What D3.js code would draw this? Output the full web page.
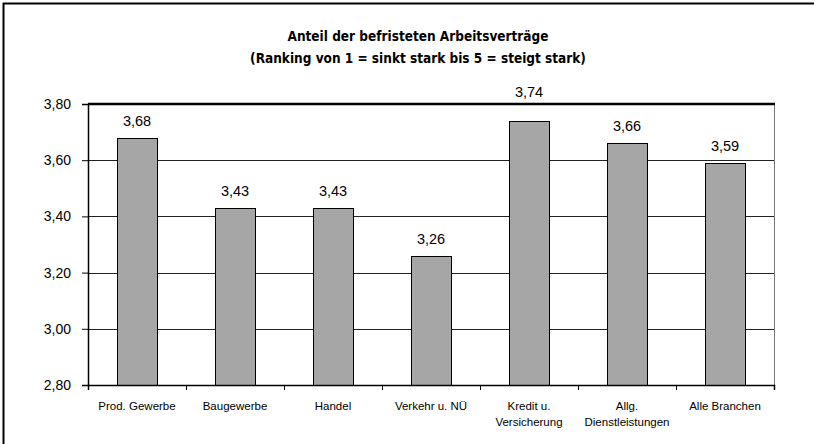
<!DOCTYPE html>
<html>
<head>
<meta charset="utf-8">
<script src="https://cdn.jsdelivr.net/npm/d3@7"></script>
<style>
  body { margin: 0; background: #fff; }
  text { font-family: "Liberation Sans", Arial, sans-serif; fill: #000; }
</style>
</head>
<body>
<div class="chart"></div>
<script>
// data
var categories = [['Prod. Gewerbe'], ['Baugewerbe'], ['Handel'], ['Verkehr u. NÜ'],
                  ['Kredit u.', 'Versicherung'], ['Allg.', 'Dienstleistungen'], ['Alle Branchen']];
var values     = [3.68, 3.43, 3.43, 3.26, 3.74, 3.66, 3.59];
var yTicks     = [2.8, 3.0, 3.2, 3.4, 3.6, 3.8];
var titleLines = ['Anteil der befristeten Arbeitsverträge',
                  '(Ranking von 1 = sinkt stark bis 5 = steigt stark)'];

var W = 814, H = 444;
var margin = { top: 104, right: 40, bottom: 59, left: 88 },
    width  = W - margin.left - margin.right,
    height = H - margin.top - margin.bottom;

var fmt = function(v){ return d3.format('.2f')(v).replace('.', ','); };

var x = d3.scaleBand().domain(d3.range(categories.length)).range([0, width]).padding(0);
var y = d3.scaleLinear().domain([2.8, 3.8]).range([height, 0]);

var svg = d3.select('.chart').append('svg')
    .attr('width', W).attr('height', H);

// outer frame
svg.append('rect')
    .attr('x', 3.5).attr('y', 3.5)
    .attr('width', W + 20).attr('height', H + 20)
    .attr('fill', 'none').attr('stroke', '#000').attr('stroke-width', 2);

svg.selectAll('.title')
    .data(titleLines)
    .enter().append('text')
    .attr('class', 'title')
    .attr('x', 418)
    .attr('y', function(d, i){ return 41 + i * 22; })
    .attr('text-anchor', 'middle')
    .attr('font-size', 13.5)
    .attr('font-weight', 'bold')
    .style('font-family', '"DejaVu Sans Condensed", Arial, sans-serif')
    .text(function(d){ return d; });

var g = svg.append('g')
    .attr('transform', 'translate(' + margin.left + ',' + margin.top + ')');

// grid lines
g.selectAll('.grid')
    .data(yTicks.slice(1, -1))
    .enter().append('line')
    .attr('x1', 0).attr('x2', width)
    .attr('y1', function(d){ return Math.round(y(d)) + 0.5; })
    .attr('y2', function(d){ return Math.round(y(d)) + 0.5; })
    .attr('stroke', '#222').attr('stroke-width', 1);

// right frame + top frame
g.append('line')
    .attr('x1', width + 0.5).attr('x2', width + 0.5)
    .attr('y1', 0).attr('y2', height + 5)
    .attr('stroke', '#777');
g.append('line')
    .attr('x1', 0).attr('x2', width + 1)
    .attr('y1', 0).attr('y2', 0)
    .attr('stroke', '#000').attr('stroke-width', 2.5);

// bars
var bw = 40;
g.selectAll('.bar')
    .data(values)
    .enter().append('rect')
    .attr('class', 'bar')
    .attr('x', function(d, i){ return Math.round(x(i) + x.bandwidth() / 2 - bw / 2) + 0.5; })
    .attr('width', bw)
    .attr('y', function(d){ return Math.round(y(d)) + 0.5; })
    .attr('height', function(d){ return Math.round(height - y(d)); })
    .attr('fill', '#a6a6a6')
    .attr('stroke', '#000').attr('stroke-width', 1);

// value labels, pushed above the frame when they would hit it
g.selectAll('.val')
    .data(values)
    .enter().append('text')
    .attr('class', 'val')
    .attr('x', function(d, i){ return x(i) + x.bandwidth() / 2; })
    .attr('y', function(d){ var yy = y(d) - 12; return yy < 14 ? -7 : yy; })
    .attr('text-anchor', 'middle')
    .attr('font-size', 14.5)
    .text(fmt);

// y axis
var yAxis = d3.axisLeft(y).tickValues(yTicks).tickSize(6).tickPadding(11).tickFormat(fmt);
var ya = g.append('g').attr('class', 'y axis').call(yAxis);
ya.select('.domain').attr('stroke', '#000').attr('stroke-width', 1.5);
ya.selectAll('text').attr('font-size', 14).attr('font-family', '"Liberation Sans", Arial, sans-serif');

// x axis: ticks between categories
var xb = d3.scaleLinear().domain([0, categories.length]).range([0, width]);
var xAxis = d3.axisBottom(xb).tickValues(d3.range(categories.length + 1)).tickSize(5).tickFormat('');
var xa = g.append('g').attr('class', 'x axis')
    .attr('transform', 'translate(0,' + height + ')')
    .call(xAxis);
xa.select('.domain').attr('stroke', '#000').attr('stroke-width', 1.5);

var labels = g.selectAll('.cat')
    .data(categories)
    .enter().append('text')
    .attr('class', 'cat')
    .attr('x', function(d, i){ return x(i) + x.bandwidth() / 2; })
    .attr('y', height + 25)
    .attr('text-anchor', 'middle')
    .attr('font-size', 11.5);
labels.selectAll('tspan')
    .data(function(d){ return d; })
    .enter().append('tspan')
    .attr('x', function(){ return d3.select(this.parentNode).attr('x'); })
    .attr('dy', function(d, i){ return i ? 16 : 0; })
    .text(function(d){ return d; });
</script>
</body>
</html>
